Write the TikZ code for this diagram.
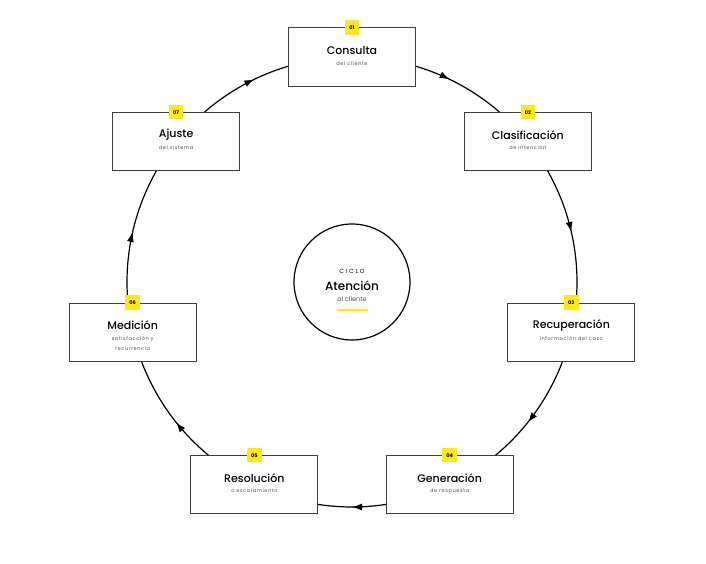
\documentclass[tikz,border=0pt]{standalone}
\usepackage{fontspec}
\setmainfont{Poppins}
\newfontfamily\spacedfont[LetterSpace=12]{Poppins}
\newfontfamily\widefont[LetterSpace=30]{Poppins}
\newfontfamily\mediumfont{Poppins Medium}
\usepackage{tikz}
\usetikzlibrary{arrows.meta,backgrounds,decorations.markings}

\definecolor{badgeyellow}{HTML}{FFE81A}
\definecolor{boxgray}{HTML}{3C3C3C}
\definecolor{subgray}{HTML}{505050}

\tikzset{
  stagebox/.style={draw=boxgray,line width=1pt,fill=white,minimum width=127pt,minimum height=58pt,inner sep=0pt},
  badge/.style={fill=badgeyellow,minimum size=14.5pt,inner sep=0pt,font=\fontsize{5}{5}\selectfont\bfseries},
  stagetitle/.style={font=\fontsize{11}{12}\mediumfont,inner sep=0pt},
  stagesub/.style={font=\fontsize{5}{10.5}\spacedfont,text=subgray,align=center,inner sep=0pt,anchor=north},
  ring/.style={line width=1.2pt,postaction={decorate},
    decoration={markings,mark=at position 0.5 with {\arrow{Latex[length=10pt,width=7pt]}}}},
}

\begin{document}
\begin{tikzpicture}[x=1pt,y=1pt]
\useasboundingbox (-352,-281) rectangle (354,282);

% centre
\node[draw,circle,line width=1.2pt,minimum size=116pt] (hub) at (0,0) {};
\node[font=\fontsize{6}{6}\widefont] (hubtop) at (0,11) {CICLO};
\node[font=\fontsize{12}{13}\mediumfont] (hubtitle) at (0,-4) {Atención};
\node[font=\fontsize{6.5}{8}\selectfont,text=subgray] (hubsub) at (0,-17) {al cliente};
\draw[badgeyellow,line width=2pt] (-15,-28) -- (16,-28);

% the seven steps
\foreach \i/\ttl/\sub in {1/Consulta/del cliente,
                          2/Clasificación/de intención,
                          3/Recuperación/información del caso,
                          4/Generación/de respuesta,
                          5/Resolución/o escalamiento,
                          6/Medición/{satisfacción y\\recurrencia},
                          7/Ajuste/del sistema}{
  \pgfmathsetmacro\ang{90-(\i-1)*360/7}
  \node[stagebox] (p\i) at (\ang:225) {};
  \node[stagetitle] (t\i) at ([yshift=7pt]p\i.center) {\ttl};
  \node[stagesub] (s\i) at ([yshift=-4pt]p\i.center) {\sub};
  \node[badge] (b\i) at (p\i.north) {0\i};
}

% arcs between the steps
\begin{scope}[on background layer]
\foreach \i in {1,...,7}{
  \draw[ring] (p\i.center) arc[start angle={90-(\i-1)*360/7},end angle={90-\i*360/7},radius=225];
}
\end{scope}
\end{tikzpicture}
\end{document}
